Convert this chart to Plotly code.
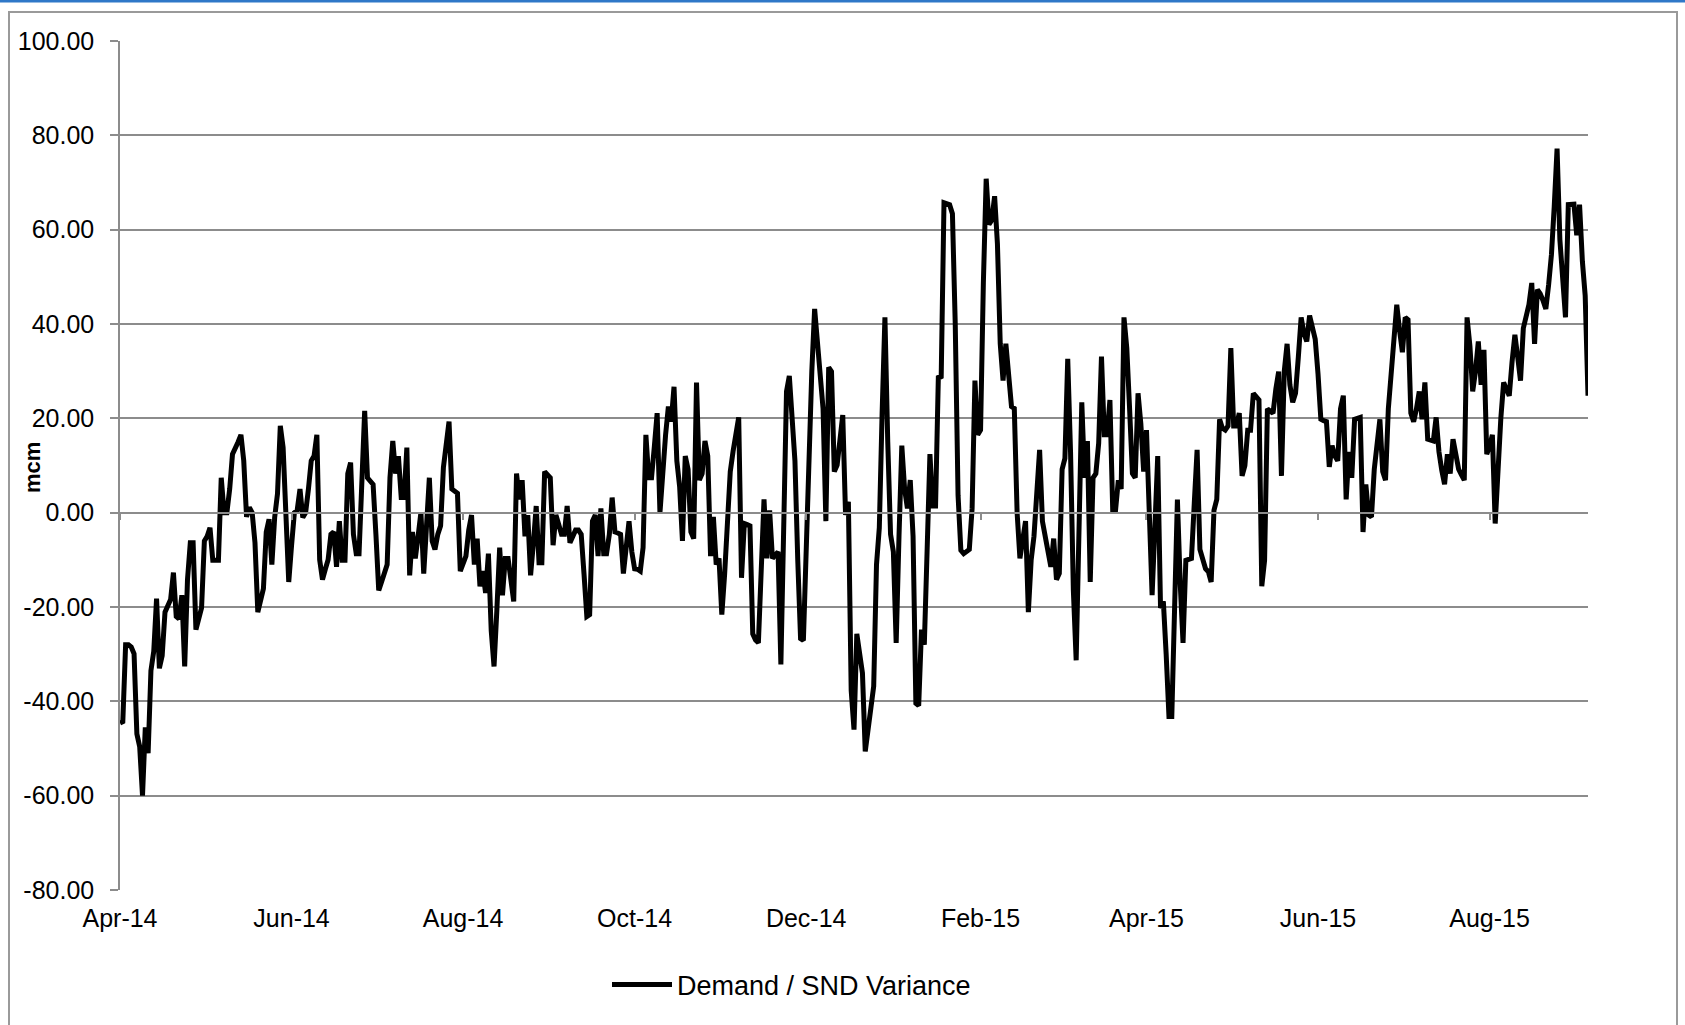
import pandas as pd
import plotly.graph_objects as go

# ---- data (mcm), one value per day ----
apr14 = [-44.6, -44.3, -28, -28, -28.5, -29.9, -46.9, -49.6, -60, -45.5, -51, -33.5, -29.4, -18.2, -33,
         -30.3, -21.1, -19.5, -18.4, -12.7, -22, -22.5, -17.5, -32.6, -14.2, -6.4, -6.4, -24.8, -22, -20.2]
may14 = [-6, -5, -3.2, -10.1, -10.1, -10.1, 7.4, 0, 0, 5, 12.4, 13.5, 15, 16.5, 11, -0.9, 1.1, 0, -6.4,
         -21.1, -19, -16.1, -4.1, -1.4, -11, -1, 4, 18.4, 13.8, 0, -14.7]
jun14 = [-7, 0, 0.5, 5, -1, 0, 5, 11, 12, 16.5, -10, -14.2, -12, -10, -4.6, -4.1, -11.5, -1.8, -10.1,
         -10.1, 8.3, 10.6, -4.6, -8.7, -8.7, 7.4, 21.6, 7.4, 6.5, 6]
jul14 = [-4.6, -16.5, -14.7, -12.5, -11, 7.4, 15.2, 8.3, 12, 3.2, 3.2, 13.8, -13.3, -4.1, -9.7, -5, 0,
         -12.9, -3, 7.4, -6, -7.8, -4.6, -2.8, 9.6, 14, 19.3, 5, 4.5, 4.1, -12.4]
aug14 = [-10.5, -9.2, -3.7, -0.5, -11, -5.5, -15.6, -12.4, -17, -8.7, -25, -32.6, -20.7, -7.4, -17.5,
         -9.7, -9.7, -14.7, -18.8, 8.3, 2.8, 6.9, -5, -0.5, -13.3, -6.4, 1.4, -10.6, -10.6, 8.7, 8]
sep14 = [7.4, -6.9, -0.5, -2.5, -4.6, -4.6, 1.4, -6.4, -5, -3.7, -3.7, -4.6, -13, -22, -21.6, -1.8,
         -0.5, -9.2, 0.9, -8.7, -8.7, -4.6, 3.2, -4.1, -4.3, -4.6, -12.9, -7, -1.8, -8.3]
oct14 = [-11.9, -12, -12.4, -7.4, 16.5, 7.4, 7.4, 14, 21.1, 0, 10, 16.5, 22.5, 19.3, 26.7, 11, 5.5, -6,
         12, 9.2, -4.1, -5.5, 27.6, 6.9, 8.3, 15.2, 12, -9.2, -0.9, -11, -9.7]
nov14 = [-21.6, -13, 0, 8.7, 13, 17, 20.2, -13.8, -2.3, -2.5, -2.8, -25.7, -27, -27.6, -10, 2.8, -9.7,
         0.5, -9.7, -9, -8.3, -32.2, 0, 25.7, 29, 20, 11, -10, -26.7, -27.1]
dec14 = [-5, 16.5, 30, 43.2, 35, 29.4, 22, -1.8, 30.8, 29.9, 8.7, 10.1, 15, 20.7, -0.5, 2.3, -37.7, -46,
         -25.7, -30.8, -34, -50.6, -46, -40, -36.8, -11, -3.2, 21.1, 41.4, 15, -4.6]
jan15 = [-8.3, -27.6, -5, 14.2, 5, 0.9, 6.9, -5, -40.4, -40.9, -24.8, -28, -8, 12.4, 1.4, 1.4, 29, 28.5,
         65.7, 65.5, 65.3, 63.4, 40, 3.7, -8, -8.7, -8.3, -7.8, 0.9, 28, 16.5]
feb15 = [17.5, 48.7, 70.8, 61.1, 62, 67.1, 57, 35.8, 28, 35.8, 30, 22.5, 22.1, 0, -9.7, -6, -1.8, -21.1,
         -10, -5, 5, 13.3, -1.8, -5, -7.4, -11.5, -5.5, -14.2]
mar15 = [-12.9, 9.2, 11.5, 32.6, 12.9, -16.5, -31.3, -5, 23.4, 7.4, 15.2, -14.7, 7.4, 8.3, 14.7, 33.1,
         16.5, 16.5, 23.9, 0.5, 0.5, 6.9, 5, 41.4, 34.9, 22, 8.3, 7.4, 25.3, 18.8, 8.7]
apr15 = [17.5, -0.9, -17.5, -3, 12, -20.2, -18.8, -30, -43.2, -43.2, -20, 2.8, -15, -27.6, -10.1, -10,
         -9.7, 2, 13.3, -7.8, -10, -11.9, -12.5, -14.7, 0.5, 2.8, 19.8, 17.9, 17.5, 18.4]
may15 = [34.9, 18.4, 18.4, 21.1, 7.8, 10, 17.5, 17.5, 25.3, 24.5, 23.9, -15.6, -10.1, 22, 21.5, 21.1,
         26.2, 29.9, 7.8, 30, 35.8, 27.1, 23.4, 25.3, 33, 41.4, 38, 36.3, 41.8, 39, 36.8]
jun15 = [29.4, 19.8, 19.5, 19.3, 9.7, 14.2, 12, 11, 22, 24.8, 2.8, 12.9, 7.4, 19.8, 20, 20.2, -4.1, 6,
         -0.5, -0.9, 9.2, 15, 19.8, 8.7, 6.9, 22, 30, 37, 44.1, 38.6]
jul15 = [34, 41.4, 40.9, 21.1, 19.3, 22, 25.7, 19.8, 27.6, 15.6, 15.4, 15.2, 20.2, 12.9, 9, 6, 12.4, 8.3,
         15.6, 12.9, 9.2, 8, 6.9, 41.4, 35.4, 25.7, 30, 36.3, 27.1, 34.5, 12.4]
aug15 = [14, 16.5, -2.3, 10, 20, 27.6, 26, 24.8, 32, 37.7, 33, 28, 39.1, 41.5, 44.1, 48.7, 35.8, 47.3,
         46.4, 45, 43.2, 48.3, 54.7, 65, 77.2, 57.9, 48, 41.4, 65.3, 65.4, 65.4]
sep15 = [58.8, 65.3, 53.3, 46, 24.8]

month_starts = ["2014-04-01", "2014-05-01", "2014-06-01", "2014-07-01", "2014-08-01", "2014-09-01",
                "2014-10-01", "2014-11-01", "2014-12-01", "2015-01-01", "2015-02-01", "2015-03-01",
                "2015-04-01", "2015-05-01", "2015-06-01", "2015-07-01", "2015-08-01", "2015-09-01"]
months = [apr14, may14, jun14, jul14, aug14, sep14, oct14, nov14, dec14, jan15, feb15, mar15,
          apr15, may15, jun15, jul15, aug15, sep15]

x_tick_vals = ["2014-04-01", "2014-06-01", "2014-08-01", "2014-10-01", "2014-12-01",
               "2015-02-01", "2015-04-01", "2015-06-01", "2015-08-01"]
x_tick_text = ["Apr-14", "Jun-14", "Aug-14", "Oct-14", "Dec-14", "Feb-15", "Apr-15", "Jun-15", "Aug-15"]
y_tick_vals = [-80, -60, -40, -20, 0, 20, 40, 60, 80, 100]
y_tick_text = ["-80.00", "-60.00", "-40.00", "-20.00", "0.00", "20.00", "40.00", "60.00", "80.00", "100.00"]

series_name = "Demand / SND Variance"

dates, values = [], []
for start, vals in zip(month_starts, months):
    dates.extend(pd.date_range(start, periods=len(vals), freq="D"))
    values.extend(vals)

x_range = ["2014-04-01", "2015-09-05"]
GRID = "#8c8c8c"
FONT = "Arial, Liberation Sans, sans-serif"

fig = go.Figure()
fig.add_trace(go.Scatter(x=dates, y=values, mode="lines", name=series_name,
                         line=dict(color="black", width=5), hoverinfo="skip"))
# helper trace so that the axis drawn at y = 0 exists
fig.add_trace(go.Scatter(x=[dates[0]], y=[None], xaxis="x2", yaxis="y", mode="lines",
                         showlegend=False, hoverinfo="skip"))

W, H = 1685, 1025
L, R, T, B = 120, 1588, 41, 890
pw, ph = R - L, B - T

def px(x):
    return (x - L) / pw

def py(y):
    return (B - y) / ph

fig.update_layout(
    width=W, height=H,
    margin=dict(l=L, r=W - R, t=T, b=H - B, pad=0),
    paper_bgcolor="white", plot_bgcolor="white",
    font=dict(family=FONT, color="black"),
    showlegend=True,
    legend=dict(orientation="h", x=px(607), xanchor="left", y=py(985), yanchor="middle",
                itemwidth=60,
                font=dict(size=27, family=FONT, color="black"), bgcolor="rgba(0,0,0,0)"),
    xaxis=dict(type="date", range=x_range, tickvals=x_tick_vals, ticktext=x_tick_text,
               showgrid=False, showline=False, zeroline=False, ticks="",
               tickfont=dict(size=25, family=FONT), ticklabelstandoff=11),
    xaxis2=dict(type="date", range=x_range, overlaying="x", anchor="free", position=80 / 180,
                side="bottom", tickvals=x_tick_vals, showticklabels=False, showgrid=False,
                zeroline=False, showline=True, linecolor=GRID, linewidth=1.5,
                ticks="outside", ticklen=7, tickwidth=1.5, tickcolor=GRID),
    yaxis=dict(range=[-80, 100], tickvals=y_tick_vals, ticktext=y_tick_text,
               showgrid=True, gridcolor=GRID, gridwidth=1.5, zeroline=False,
               showline=True, linecolor=GRID, linewidth=1.5,
               ticks="outside", ticklen=8, tickwidth=1.5, tickcolor=GRID,
               tickfont=dict(size=25, family=FONT), ticklabelstandoff=11),
    hovermode=False,
)

fig.add_annotation(text="<b>mcm</b>", xref="paper", yref="paper", x=px(32), y=py(468),
                   xanchor="center", yanchor="middle", textangle=-90, showarrow=False,
                   font=dict(size=22, family=FONT, color="black"))

# outer chart frame and blue top rule
fig.add_shape(type="rect", xref="paper", yref="paper", x0=px(9), x1=px(1677), y0=py(1040), y1=py(12),
              line=dict(color="#9a9a9a", width=2), fillcolor="rgba(0,0,0,0)", layer="above")
fig.add_shape(type="line", xref="paper", yref="paper", x0=px(0), x1=px(1685), y0=py(1), y1=py(1),
              line=dict(color="#2F78C8", width=3))

fig.write_html("out.html", config={"displayModeBar": False},
               post_script="document.body.style.margin='0';document.body.style.overflow='hidden';")
